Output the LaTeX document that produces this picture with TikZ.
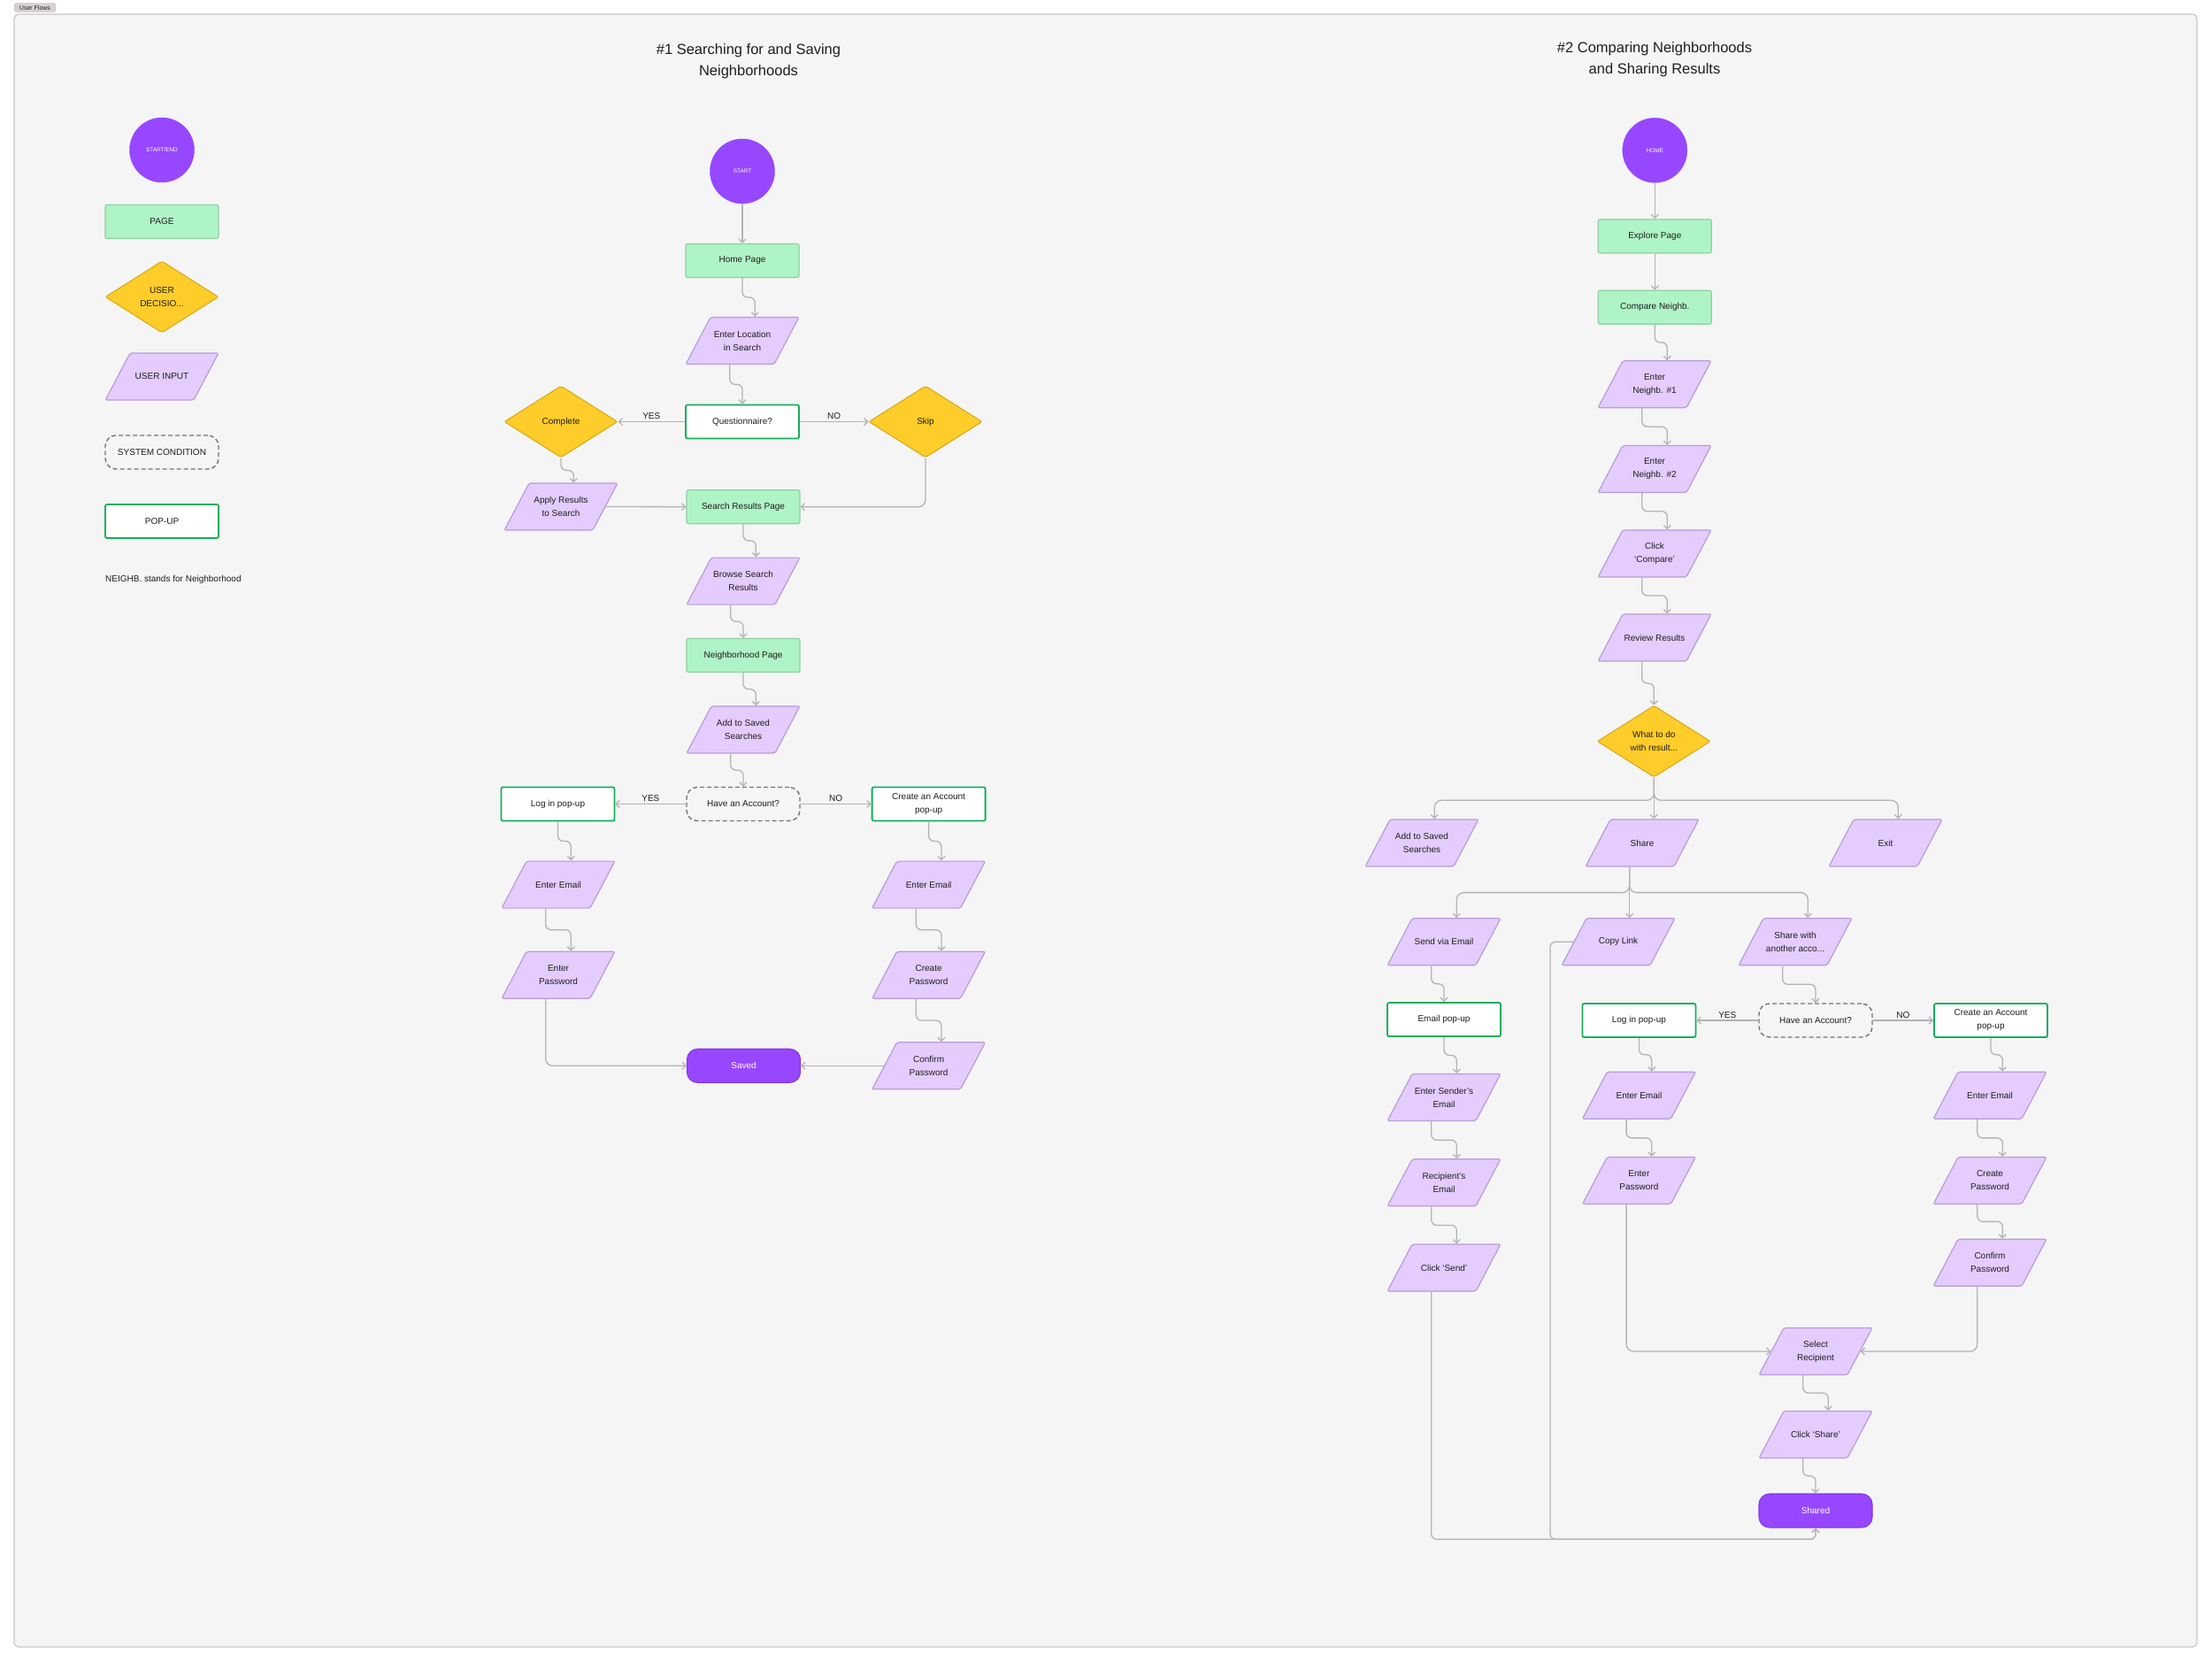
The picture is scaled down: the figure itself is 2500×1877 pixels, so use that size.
\documentclass[tikz,border=0pt]{standalone}
\usepackage{fontspec}
\setmainfont{Liberation Sans}
\usetikzlibrary{shapes.geometric,arrows.meta,calc}
\definecolor{bg}{HTML}{F5F5F5}
\definecolor{frameb}{HTML}{C7C7C7}
\definecolor{purp}{HTML}{9747FF}
\definecolor{purpb}{HTML}{8438E8}
\definecolor{pagef}{HTML}{AFF4C6}
\definecolor{pageb}{HTML}{8FCFA4}
\definecolor{decf}{HTML}{FFCD29}
\definecolor{decb}{HTML}{D6A616}
\definecolor{inpf}{HTML}{E4CCFF}
\definecolor{inpb}{HTML}{B79CD6}
\definecolor{popb}{HTML}{14AE5C}
\definecolor{sysb}{HTML}{757575}
\definecolor{linec}{HTML}{B3B3B3}
\definecolor{textc}{HTML}{1E1E1E}
\definecolor{tagf}{HTML}{D9D1D1}
\definecolor{tagb}{HTML}{BDB3B3}
\newcommand\flowfont{\fontsize{10}{15}\selectfont}
\newcommand\tinyflowfont{\fontsize{6.4}{8}\selectfont}
\newcommand\titlefont{\fontsize{16.5}{24.5}\selectfont}
\newcommand\inp[1]{\parbox[c][53pt][c]{72pt}{\centering #1}}
\begin{document}
\begin{tikzpicture}[x=1pt,y=-1pt,
  base/.style={inner sep=0pt, align=center, font=\flowfont, text=textc},
  page/.style={base, rectangle, draw=pageb, fill=pagef, line width=1.2pt, rounded corners=2pt, minimum width=128pt, minimum height=38pt},
  popup/.style={base, rectangle, draw=popb, fill=white, line width=1.8pt, rounded corners=2pt, minimum width=128pt, minimum height=38pt},
  inputbox/.style={inner sep=0pt, font=\flowfont, text=textc, trapezium, trapezium left angle=62.2, trapezium right angle=117.8, draw=inpb, fill=inpf, line width=1.2pt, rounded corners=2pt},
  decision/.style={base, diamond, draw=decb, fill=decf, line width=1pt, rounded corners=2pt, minimum width=128pt, minimum height=81pt},
  syscond/.style={base, rectangle, draw=sysb, fill=bg, dash pattern=on 5pt off 3pt, line width=1.4pt, rounded corners=12pt, minimum width=128pt, minimum height=38pt},
  terminal/.style={base, rectangle, draw=purpb, fill=purp, text=white, line width=1.2pt, rounded corners=12pt, minimum width=128pt, minimum height=38pt},
  startc/.style={circle, draw=purp, fill=purp, text=white, font=\tinyflowfont, inner sep=0pt, minimum size=73pt},
  conn/.style={draw=linec, line width=1.3pt, rounded corners=6pt, -{Straight Barb[length=4pt,width=8pt]}},
  scurve/.style={to path={let \p1=(\tikztostart), \p2=(\tikztotarget) in -- (\x1,{0.5*(\y1+\y2)}) -- (\x2,{0.5*(\y1+\y2)}) -- (\p2)}},
  lbl/.style={font=\fontsize{10}{12}\selectfont, text=textc, above, inner sep=2pt},
  titl/.style={font=\titlefont, text=textc, align=center, inner sep=0pt}
]
\useasboundingbox (0,0) rectangle (2500,1877);
\fill[white] (0,0) rectangle (2500,1877);
\draw[draw=frameb, fill=bg, line width=1.2pt, rounded corners=5pt] (16,16) rectangle (2483,1861);
\node[rectangle, fill=tagf, draw=tagb, rounded corners=3pt, minimum width=47pt, minimum height=10pt, inner sep=0pt, font=\fontsize{7}{8}\selectfont, text=textc] (tag) at (39.5,8.5) {User Flows};

% titles
\node[titl] (t1) at (846,69) {\#1 Searching for and Saving\\Neighborhoods};
\node[titl] (t2) at (1870,67) {\#2 Comparing Neighborhoods\\and Sharing Results};

% legend
\node[startc] (lstart) at (183,169.5) {START/END};
\node[page] (lpage) at (183,250.5) {PAGE};
\node[decision] (ldec) at (183,335.5) {USER\\DECISIO...};
\node[inputbox] (linp) at (183,425.5) {\inp{USER INPUT}};
\node[syscond] (lsys) at (183,511) {SYSTEM CONDITION};
\node[popup] (lpop) at (183,589) {POP-UP};
\node[base, anchor=west] (lnote) at (119,655) {NEIGHB. stands for Neighborhood};

% flow 1
\node[startc] (start1) at (839,193.5) {START};
\node[page] (home) at (839,294.5) {Home Page};
\node[inputbox] (eloc) at (839,385) {\inp{Enter Location\\in Search}};
\node[popup] (quest) at (839,476.5) {Questionnaire?};
\node[decision] (compl) at (634,476.5) {Complete};
\node[decision] (skip) at (1046,476.5) {Skip};
\node[inputbox] (apply) at (634,572.5) {\inp{Apply Results\\to Search}};
\node[page] (srp) at (840,572.7) {Search Results Page};
\node[inputbox] (browse) at (840,656.6) {\inp{Browse Search\\Results}};
\node[page] (nbh) at (840,740.5) {Neighborhood Page};
\node[inputbox] (addsv) at (840,824.5) {\inp{Add to Saved\\Searches}};
\node[syscond] (hacc) at (840,908.5) {Have an Account?};
\node[popup] (login) at (630.5,908.5) {Log in pop-up};
\node[popup] (create) at (1049.6,908.5) {Create an Account\\pop-up};
\node[inputbox] (lemail) at (631,999.6) {\inp{Enter Email}};
\node[inputbox] (lpass) at (631,1101.7) {\inp{Enter\\Password}};
\node[inputbox] (remail) at (1049.6,999.6) {\inp{Enter Email}};
\node[inputbox] (rcpass) at (1049.6,1101.7) {\inp{Create\\Password}};
\node[inputbox] (rconf) at (1049.6,1204.3) {\inp{Confirm\\Password}};
\node[terminal] (saved) at (840.5,1204.3) {Saved};

\draw[conn] (start1.south) -- (home.north);
\draw[conn] (home.south) to[scurve] (eloc.top side);
\draw[conn] (eloc.bottom side) to[scurve] (quest.north);
\draw[conn] (quest.west) -- node[lbl]{YES} (compl.east);
\draw[conn] (quest.east) -- node[lbl]{NO} (skip.west);
\draw[conn] (compl.south) to[scurve] (apply.top side);
\draw[conn] (apply.right side) -- (srp.west);
\draw[conn, rounded corners=8pt] (skip.south) |- (srp.east);
\draw[conn] (srp.south) to[scurve] (browse.top side);
\draw[conn] (browse.bottom side) to[scurve] (nbh.north);
\draw[conn] (nbh.south) to[scurve] (addsv.top side);
\draw[conn] (addsv.bottom side) to[scurve] (hacc.north);
\draw[conn] (hacc.west) -- node[lbl]{YES} (login.east);
\draw[conn] (hacc.east) -- node[lbl]{NO} (create.west);
\draw[conn] (login.south) to[scurve] (lemail.top side);
\draw[conn] (lemail.bottom side) to[scurve] (lpass.top side);
\draw[conn, rounded corners=8pt] (lpass.bottom side) |- (saved.west);
\draw[conn] (create.south) to[scurve] (remail.top side);
\draw[conn] (remail.bottom side) to[scurve] (rcpass.top side);
\draw[conn] (rcpass.bottom side) to[scurve] (rconf.top side);
\draw[conn] (rconf.left side) -- (saved.east);

% flow 2
\node[startc] (home2) at (1870.3,169.8) {HOME};
\node[page] (explore) at (1870.3,266.9) {Explore Page};
\node[page] (compare) at (1870.3,347.3) {Compare Neighb.};
\node[inputbox] (n1) at (1870,434.3) {\inp{Enter\\Neighb. \#1}};
\node[inputbox] (n2) at (1870,530) {\inp{Enter\\Neighb. \#2}};
\node[inputbox] (clickc) at (1870,625.5) {\inp{Click\\‘Compare’}};
\node[inputbox] (review) at (1870,720.5) {\inp{Review Results}};
\node[decision] (whatdo) at (1869.3,837.7) {What to do\\with result...};
\node[inputbox] (add2) at (1607,952.5) {\inp{Add to Saved\\Searches}};
\node[inputbox] (share) at (1856,952.5) {\inp{Share}};
\node[inputbox] (exit) at (2131,952.5) {\inp{Exit}};
\node[inputbox] (sendem) at (1632,1064.2) {\inp{Send via Email}};
\node[inputbox] (copy) at (1829,1064.2) {\inp{Copy Link}};
\node[inputbox] (shwith) at (2029,1064.2) {\inp{Share with\\another acco...}};
\node[popup] (empop) at (1632,1152) {Email pop-up};
\node[popup] (login2) at (1852.4,1153) {Log in pop-up};
\node[syscond] (hacc2) at (2052,1153) {Have an Account?};
\node[popup] (create2) at (2250,1153) {Create an Account\\pop-up};
\node[inputbox] (sender) at (1632,1240) {\inp{Enter Sender’s\\Email}};
\node[inputbox] (recip) at (1632,1336.3) {\inp{Recipient’s\\Email}};
\node[inputbox] (csend) at (1632,1432.5) {\inp{Click ‘Send’}};
\node[inputbox] (memail) at (1852.4,1237.7) {\inp{Enter Email}};
\node[inputbox] (mpass) at (1852.4,1334) {\inp{Enter\\Password}};
\node[inputbox] (r2email) at (2249,1237.7) {\inp{Enter Email}};
\node[inputbox] (r2cpass) at (2249,1334) {\inp{Create\\Password}};
\node[inputbox] (r2conf) at (2249,1426.7) {\inp{Confirm\\Password}};
\node[inputbox] (select) at (2052,1527) {\inp{Select\\Recipient}};
\node[inputbox] (clicksh) at (2052,1621) {\inp{Click ‘Share’}};
\node[terminal] (shared) at (2052,1707) {Shared};
\coordinate (bus) at (1752,1739.3);

\draw[conn] (home2.south) -- (explore.north);
\draw[conn] (explore.south) -- (compare.north);
\draw[conn] (compare.south) to[scurve] (n1.top side);
\draw[conn] (n1.bottom side) to[scurve] (n2.top side);
\draw[conn] (n2.bottom side) to[scurve] (clickc.top side);
\draw[conn] (clickc.bottom side) to[scurve] (review.top side);
\draw[conn] (review.bottom side) to[scurve] (whatdo.north);
\draw[conn, rounded corners=8pt] (whatdo.south) -- ++(0,25.6) -| (add2.top side);
\draw[conn] (whatdo.south) -- (whatdo.south |- share.top side);
\draw[conn, rounded corners=8pt] (whatdo.south) -- ++(0,25.6) -| (exit.top side);
\draw[conn, rounded corners=8pt] (share.bottom side) -- ++(0,29) -| (sendem.top side);
\draw[conn] (share.bottom side) -- (share.bottom side |- copy.top side);
\draw[conn, rounded corners=8pt] (share.bottom side) -- ++(0,29) -| (shwith.top side);
\draw[conn] (shwith.bottom side) to[scurve] (hacc2.north);
\draw[conn] (hacc2.west) -- node[lbl]{YES} (login2.east);
\draw[conn] (hacc2.east) -- node[lbl]{NO} (create2.west);
\draw[conn] (sendem.bottom side) to[scurve] (empop.north);
\draw[conn] (empop.south) to[scurve] (sender.top side);
\draw[conn] (sender.bottom side) to[scurve] (recip.top side);
\draw[conn] (recip.bottom side) to[scurve] (csend.top side);
\draw[conn] (login2.south) to[scurve] (memail.top side);
\draw[conn] (memail.bottom side) to[scurve] (mpass.top side);
\draw[conn] (create2.south) to[scurve] (r2email.top side);
\draw[conn] (r2email.bottom side) to[scurve] (r2cpass.top side);
\draw[conn] (r2cpass.bottom side) to[scurve] (r2conf.top side);
\draw[conn, rounded corners=8pt] (mpass.bottom side) |- (select.left side);
\draw[conn, rounded corners=8pt] (r2conf.bottom side) |- (select.right side);
\draw[conn] (select.bottom side) to[scurve] (clicksh.top side);
\draw[conn] (clicksh.bottom side) to[scurve] (shared.north);
\draw[conn, rounded corners=6pt] (csend.bottom side) |- (bus -| shared.south) -- (shared.south);
\draw[conn, rounded corners=6pt] (copy.left side) -| (bus) -| (shared.south);
\end{tikzpicture}
\end{document}
